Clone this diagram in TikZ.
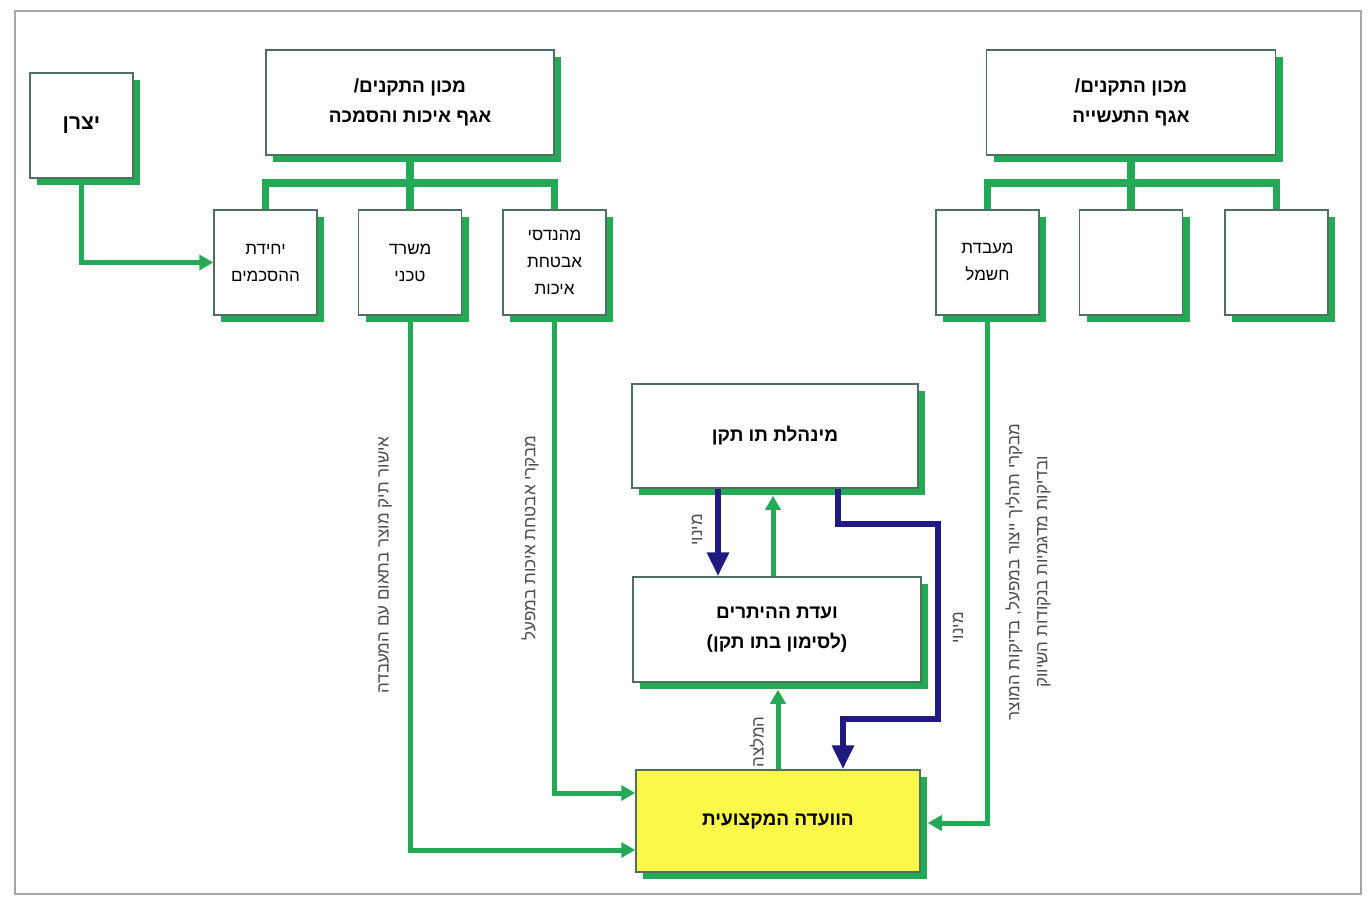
\documentclass[tikz,border=0pt]{standalone}
\usepackage{fontspec}
\newfontfamily\hebfont[Script=Hebrew]{Liberation Sans}
\TeXXeTstate=1
\usetikzlibrary{shadows,arrows.meta,calc}
\newcommand\heb[1]{{\hebfont\beginR #1\endR}}
\definecolor{grn}{RGB}{36,170,86}
\definecolor{navy}{RGB}{32,26,128}
\definecolor{yel}{RGB}{250,248,72}
\definecolor{boxedge}{RGB}{78,112,92}
\begin{document}
\begin{tikzpicture}[x=1pt,y=-1pt,
  box/.style={draw=boxedge, line width=1.5pt, fill=white, inner sep=0pt, align=center,
    drop shadow={shadow xshift=7pt, shadow yshift=-7pt, fill=grn, opacity=1}},
  bigbox/.style={box, font=\fontsize{19}{30}\selectfont\bfseries},
  smallbox/.style={box, minimum width=103pt, minimum height=105pt, font=\fontsize{17}{27}\selectfont},
  tree/.style={draw=grn, line width=7.5pt},
  garrow/.style={draw=grn, line width=5pt, -{Triangle[length=14pt,width=15pt]}},
  barrow/.style={draw=navy, line width=6pt, -{Triangle[length=24pt,width=21pt]}},
  vlabel/.style={rotate=90, align=center, text=black!70, font=\fontsize{17}{28}\selectfont, inner sep=0pt}
]
\useasboundingbox (0,0) rectangle (1369,904);
\draw[draw=black!35, line width=1.5pt] (15,11) rectangle (1361,894);

% top left
\node[bigbox, minimum width=103pt, minimum height=105pt, font=\fontsize{21}{30}\selectfont\bfseries] (yatz) at (81.5,125.5) {\heb{יצרן}};
\node[bigbox, minimum width=288pt, minimum height=105pt] (mL) at (410,102.5) {\heb{מכון התקנים/}\\\heb{אגף איכות והסמכה}};
\node[smallbox] (yeh) at (265.5,262.5) {\heb{יחידת}\\\heb{ההסכמים}};
\node[smallbox] (misrad) at (410,262.5) {\heb{משרד}\\\heb{טכני}};
\node[smallbox] (mehand) at (554.5,262.5) {\heb{מהנדסי}\\\heb{אבטחת}\\\heb{איכות}};

% top right
\node[bigbox, minimum width=289pt, minimum height=105pt] (mR) at (1131,102.5) {\heb{מכון התקנים/}\\\heb{אגף התעשייה}};
\node[smallbox] (maab) at (987.5,262.5) {\heb{מעבדת}\\\heb{חשמל}};
\node[smallbox] (e2) at (1131,262.5) {};
\node[smallbox] (e3) at (1276.5,262.5) {};

% center
\node[bigbox, minimum width=286pt, minimum height=104pt] (minh) at (775,436) {\heb{מינהלת תו תקן}};
\node[bigbox, minimum width=288pt, minimum height=105pt] (vaada) at (777,629.5) {\heb{ועדת ההיתרים}\\\heb{(לסימון בתו תקן)}};
\node[bigbox, fill=yel, minimum width=284pt, minimum height=102pt] (prof) at (778,821) {\heb{הוועדה המקצועית}};

% trees
\coordinate (bl) at (410,183);
\draw[tree] (mL.south) -- (bl);
\draw[tree] (yeh.north) -- (yeh.north |- bl) -| (mehand.north);
\draw[tree] (misrad.north) -- (bl);
\coordinate (br) at (1131,183);
\draw[tree] (mR.south) -- (br);
\draw[tree] (maab.north) -- (maab.north |- br) -| (e3.north);
\draw[tree] (e2.north) -- (br);

% green connectors
\draw[garrow] (yatz.south) |- (yeh.west);
\draw[garrow] (misrad.south) |- ($(prof.west)+(0,29)$);
\draw[garrow] (mehand.south) |- ($(prof.west)+(0,-28)$);
\draw[garrow] (maab.south) |- ($(prof.east)+(7,2)$);
\draw[garrow] (prof.north) -- ($(prof.north |- vaada.south)+(0,7)$);
\draw[garrow] ($(vaada.north)+(-4,0)$) -- ($(vaada.north |- minh.south)+(-4,7)$);

% blue connectors
\draw[barrow] ($(minh.south)+(-57,0)$) -- ($(minh.south |- vaada.north)+(-57,0)$);
\draw[barrow, line join=miter] ($(minh.south)+(63,0)$) -- ++(0,35) -- ++(100,0) -- ++(0,195) -- ++(-95,0) -- ($(prof.north)+(65,0)$);

% vertical labels
\node[vlabel] (l1) at (385,565) {\heb{אישור תיק מוצר בתאום עם המעבדה}};
\node[vlabel] (l2) at (530,538) {\heb{מבקרי אבטחת איכות במפעל}};
\node[vlabel] (l3) at (1028,572) {\heb{מבקרי תהליך ייצור במפעל, בדיקות המוצר}\\\heb{ובדיקות מדגמיות בנקודות השיווק}};
\node[vlabel] (l4) at (697,530) {\heb{מינוי}};
\node[vlabel] (l5) at (958,628) {\heb{מינוי}};
\node[vlabel] (l6) at (757,742) {\heb{המלצה}};
\end{tikzpicture}
\end{document}
